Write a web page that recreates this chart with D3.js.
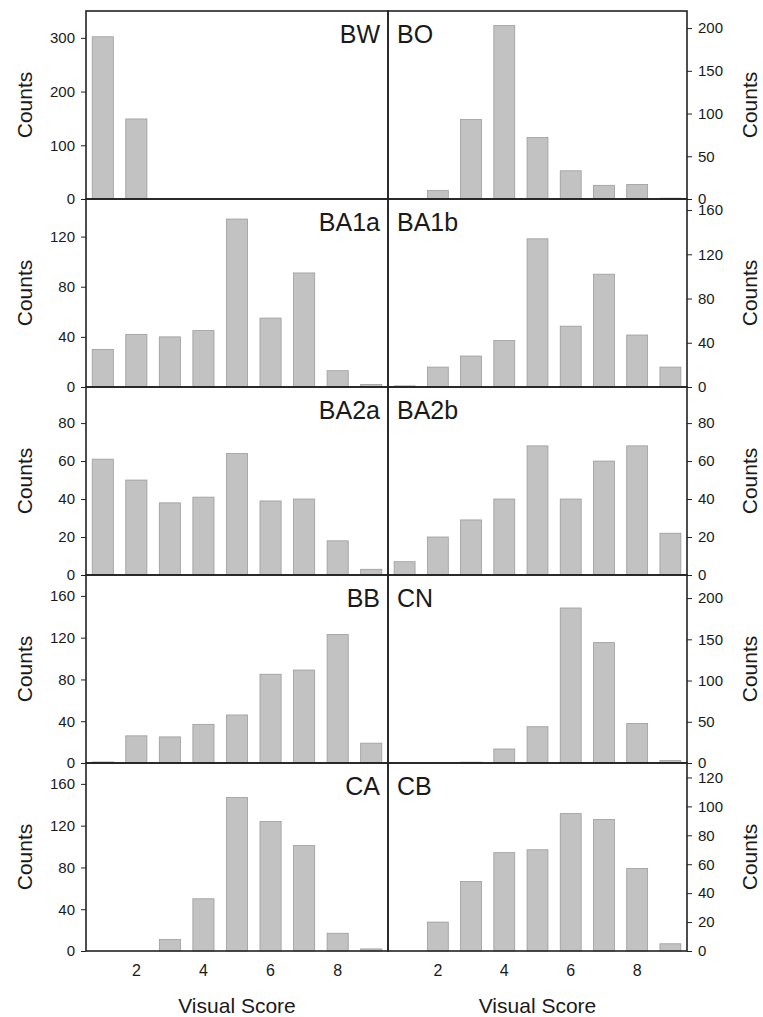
<!DOCTYPE html>
<html>
<head>
<meta charset="utf-8">
<script src="https://cdn.jsdelivr.net/npm/d3@7"></script>
<style>
  body { margin: 0; background: #fff; }
  svg text { font-family: "Liberation Sans", Arial, sans-serif; fill: #1a1a1a; }
  .tick line { stroke: #222; }
</style>
</head>
<body>
<div id="chart"></div>
<script>
/////////////////////////////////////
///      DATA
/////////////////////////////////////
var scores = [1, 2, 3, 4, 5, 6, 7, 8, 9];
var panelNames = ["BW", "BO", "BA1a", "BA1b", "BA2a", "BA2b", "BB", "CN", "CA", "CB"];
var bw   = [302, 149, 0, 0, 0, 0, 0, 0, 0];
var bo   = [0, 10, 93, 203, 72, 33, 16, 17, 1];
var ba1a = [30, 42, 40, 45, 134, 55, 91, 13, 2];
var ba1b = [1, 18, 28, 42, 134, 55, 102, 47, 18];
var ba2a = [61, 50, 38, 41, 64, 39, 40, 18, 3];
var ba2b = [7, 20, 29, 40, 68, 40, 60, 68, 22];
var bb   = [1, 26, 25, 37, 46, 85, 89, 123, 19];
var cn   = [0, 0, 1, 17, 44, 188, 146, 48, 3];
var ca   = [0, 0, 11, 50, 147, 124, 101, 17, 2];
var cb   = [0, 20, 48, 68, 70, 95, 91, 57, 5];
var series = [bw, bo, ba1a, ba1b, ba2a, ba2b, bb, cn, ca, cb];
var yMax = [350, 220, 150, 170, 99, 99, 180, 228, 180, 130];
var yTicks = [
  [0, 100, 200, 300], [0, 50, 100, 150, 200],
  [0, 40, 80, 120], [0, 40, 80, 120, 160],
  [0, 20, 40, 60, 80], [0, 20, 40, 60, 80],
  [0, 40, 80, 120, 160], [0, 50, 100, 150, 200],
  [0, 40, 80, 120, 160], [0, 20, 40, 60, 80, 100, 120]
];
var xTicks = [2, 4, 6, 8];

/////////////////////////////////////
///      LAYOUT
/////////////////////////////////////
var width = 763, height = 1017;
var top0 = 11, rowH = 188;
var colX = [86, 388], colW = [302, 299];

var svg = d3.select("#chart").append("svg")
  .attr("width", width)
  .attr("height", height);

function drawPanel(i) {
  var col = i % 2, row = Math.floor(i / 2);
  var x0 = colX[col], y0 = top0 + row * rowH, w = colW[col];
  var g = svg.append("g").attr("transform", "translate(" + x0 + "," + y0 + ")");

  var x = d3.scaleBand().domain(scores).range([0, w])
    .paddingInner(0.37).paddingOuter(0.185);
  var y = d3.scaleLinear().domain([0, yMax[i]]).range([rowH, 0]);

  g.selectAll("rect.bar")
    .data(series[i])
    .enter().append("rect")
    .attr("class", "bar")
    .attr("x", function(d, k) { return x(scores[k]); })
    .attr("y", function(d) { return y(d); })
    .attr("width", x.bandwidth())
    .attr("height", function(d) { return rowH - y(d); })
    .attr("fill", "#c2c2c2")
    .attr("stroke", "#9c9c9c")
    .attr("stroke-width", 0.8);

  // frame
  g.append("rect")
    .attr("width", w).attr("height", rowH)
    .attr("fill", "none").attr("stroke", "#222").attr("stroke-width", 1.6);

  var axis = (col === 0 ? d3.axisLeft(y) : d3.axisRight(y))
    .tickValues(yTicks[i]).tickSize(5).tickPadding(6);
  var ax = g.append("g")
    .attr("transform", "translate(" + (col === 0 ? 0 : w) + ",0)")
    .call(axis);
  ax.select(".domain").remove();
  ax.selectAll("text").style("font-size", "15px");

  // panel name
  g.append("text")
    .attr("x", col === 0 ? w - 8 : 9)
    .attr("y", 32)
    .attr("text-anchor", col === 0 ? "end" : "start")
    .style("font-size", "25px")
    .text(panelNames[i]);

  // y title
  svg.append("text")
    .attr("transform", "translate(" + (col === 0 ? 32 : 757) + "," + (y0 + rowH / 2) + ") rotate(-90)")
    .attr("text-anchor", "middle")
    .style("font-size", "21px")
    .text("Counts");

  // bottom row gets x axis
  if (row === 4) {
    var xa = g.append("g")
      .attr("transform", "translate(0," + rowH + ")")
      .call(d3.axisBottom(x).tickValues(xTicks).tickSize(0).tickPadding(14));
    xa.select(".domain").remove();
    xa.selectAll("text").style("font-size", "16px");
    g.append("text")
      .attr("x", w / 2)
      .attr("y", rowH + 62)
      .attr("text-anchor", "middle")
      .style("font-size", "21px")
      .text("Visual Score");
  }
}

for (var i = 0; i < series.length; i++) drawPanel(i);
</script>
</body>
</html>
